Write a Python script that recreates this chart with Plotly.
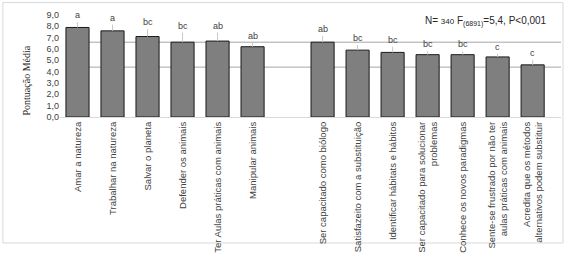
import plotly.graph_objects as go

group1 = ["Amar a natureza", "Trabalhar na natureza", "Salvar o planeta",
          "Defender os animais", "Ter Aulas práticas com animais", "Manipular animais"]
group2 = ["Ser capacitado como biólogo", "Satisfazeito com a substituição",
          "Identificar hábitats e hábitos", "Ser capacitado para solucionar<br>problemas",
          "Conhece os novos paradigmas", "Sente-se frustrado por não ter<br>aulas práticas com animais",
          "Acredita que os métodos<br>alternativos podem substituir"]
values1 = [7.9, 7.6, 7.1, 6.6, 6.7, 6.2]
values2 = [6.6, 5.9, 5.7, 5.5, 5.5, 5.3, 4.6]
errors1 = [0.45, 0.55, 0.65, 0.85, 0.75, 0.35]
errors2 = [0.55, 0.45, 0.5, 0.3, 0.3, 0.3, 0.45]
letters1 = ["a", "a", "bc", "bc", "ab", "ab"]
letters2 = ["ab", "bc", "bc", "bc", "bc", "c", "c"]
ref_lines = [6.6, 4.4]
y_ticks = [0, 1, 2, 3, 4, 5, 6, 7, 8, 9]

categories = group1 + group2
values = values1 + values2
errors = errors1 + errors2
letters = letters1 + letters2
cat_order = group1 + [" "] + group2

fig = go.Figure()
fig.add_trace(go.Bar(
    x=categories, y=values,
    marker=dict(color="#7f7f7f", line=dict(color="#1a1a1a", width=1)),
    error_y=dict(type="data", array=errors, arrayminus=[0] * len(errors),
                 color="#c8c8c8", thickness=1, width=0),
    showlegend=False, hoverinfo="skip",
))

for c, v, e, t in zip(categories, values, errors, letters):
    fig.add_annotation(x=c, y=v + e, text=t, showarrow=False, yanchor="bottom",
                       yshift=0, font=dict(size=9, color="#404040", family="Liberation Sans"))

for r in ref_lines:
    fig.add_shape(type="line", xref="x", yref="y", x0=-0.32, x1=13.81, y0=r, y1=r,
                  line=dict(color="#a6a6a6", width=1), layer="below")

fig.add_shape(type="rect", xref="paper", yref="paper", x0=-0.114, x1=1.004, y0=-1.235, y1=1.122,
              line=dict(color="#d9d9d9", width=1), layer="below")

fig.add_annotation(xref="paper", yref="paper", x=0.976, y=0.94, xanchor="right", yanchor="middle",
                   text="N= <span style='font-size:8px'>340</span> F<sub>(6891)</sub>=5,4, P<0,001",
                   showarrow=False, font=dict(size=10, color="#262626", family="Liberation Sans"))

fig.add_annotation(xref="paper", yref="paper", x=-0.066, y=0.357, xanchor="center", yanchor="middle",
                   text="Pontuação Média", textangle=-90, showarrow=False,
                   font=dict(size=10, color="#262626", family="Liberation Serif"))

fig.update_layout(
    width=566, height=258,
    margin=dict(l=60, r=5, t=15, b=136.5),
    paper_bgcolor="white", plot_bgcolor="white",
    bargap=0.34,
    separators=", ",
    xaxis=dict(type="category", categoryorder="array", categoryarray=cat_order,
               range=[-0.5, 13.81], tickangle=-90, showgrid=False, ticks="",
               showline=True, linecolor="#d9d9d9", linewidth=1,
               tickfont=dict(size=9.5, color="#404040", family="Liberation Sans")),
    yaxis=dict(range=[0, 9], tickvals=y_ticks, tickformat=".1f", showgrid=False,
               zeroline=False, showline=False, ticks="",
               tickfont=dict(size=9, color="#404040", family="Liberation Sans")),
)

fig.write_html("out.html", config={"displayModeBar": False},
               post_script="document.body.style.margin='0';")
